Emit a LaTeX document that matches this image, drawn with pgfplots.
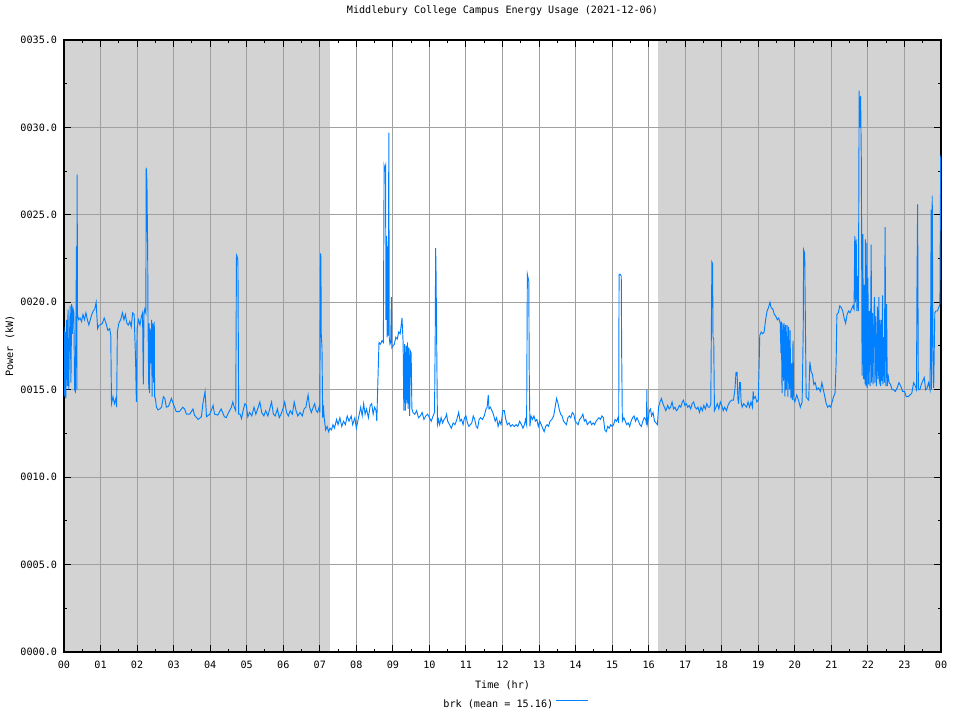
\documentclass[border=0pt]{standalone}
\usepackage{pgfplots}
\usepackage{pgfplotstable}
\pgfplotsset{compat=1.18}
\usepackage{fontspec}
\setmainfont{DejaVu Sans Mono}
\definecolor{shade}{HTML}{D3D3D3}
\definecolor{gridc}{HTML}{A0A0A0}
\definecolor{linec}{HTML}{0080FF}

\pgfplotstableread{
x y
0.00 18.6
0.02 14.6
0.04 18.3
0.05 14.5
0.07 19.0
0.09 15.2
0.11 19.6
0.13 15.0
0.15 18.0
0.17 19.8
0.19 15.4
0.21 19.9
0.23 18.2
0.25 19.6
0.27 19.4
0.29 15.0
0.31 14.9
0.33 19.8
0.34 23.2
0.35 15.0
0.36 27.3
0.37 19.3
0.40 19.0
0.44 19.1
0.48 18.9
0.52 19.3
0.56 19.0
0.60 19.4
0.64 19.0
0.68 18.7
0.72 19.0
0.76 19.3
0.80 19.5
0.84 19.6
0.88 20.0
0.90 19.2
0.92 18.5
0.96 18.7
1.00 18.7
1.05 18.8
1.10 19.1
1.15 18.8
1.20 18.4
1.25 18.5
1.28 18.1
1.30 14.2
1.34 14.6
1.38 14.2
1.42 14.5
1.44 14.0
1.46 18.3
1.50 18.8
1.55 19.0
1.60 19.4
1.64 19.0
1.68 19.3
1.72 18.8
1.76 18.7
1.80 18.9
1.84 18.6
1.88 19.4
1.92 19.3
1.96 16.6
1.98 14.3
2.00 18.5
2.04 19.0
2.08 18.7
2.12 19.2
2.15 19.4
2.17 15.3
2.19 19.3
2.21 19.6
2.24 19.4
2.25 27.7
2.27 26.9
2.29 22.8
2.30 18.6
2.32 15.0
2.33 18.8
2.34 14.8
2.36 18.5
2.38 16.5
2.40 19.0
2.41 14.6
2.43 18.8
2.45 15.4
2.47 18.9
2.48 14.6
2.50 14.5
2.53 14.0
2.57 13.85
2.62 13.9
2.67 14.0
2.72 14.6
2.76 14.5
2.80 14.0
2.86 14.05
2.94 14.5
2.99 14.2
3.07 13.75
3.16 13.75
3.25 14.0
3.30 13.9
3.35 13.6
3.44 13.6
3.53 13.9
3.57 13.55
3.67 13.3
3.76 13.45
3.80 14.2
3.86 14.9
3.90 13.45
3.99 13.6
4.08 14.1
4.12 13.6
4.21 13.55
4.30 13.9
4.39 13.45
4.44 13.4
4.48 13.6
4.53 13.8
4.58 14.0
4.62 14.3
4.66 14.0
4.70 13.8
4.72 22.7
4.74 22.6
4.76 22.4
4.78 13.6
4.82 13.6
4.86 13.35
4.90 13.8
4.95 14.2
4.99 14.1
5.03 13.45
5.08 13.7
5.14 13.5
5.20 14.0
5.25 13.6
5.30 13.9
5.36 14.3
5.41 13.7
5.47 13.5
5.52 13.8
5.58 13.5
5.63 13.9
5.68 14.3
5.73 13.6
5.78 13.5
5.84 13.9
5.89 13.4
5.94 13.6
5.99 13.9
6.04 14.3
6.09 13.7
6.14 13.5
6.19 13.8
6.25 13.6
6.30 14.3
6.35 13.8
6.40 13.5
6.46 13.7
6.52 13.5
6.57 13.9
6.62 14.0
6.68 14.7
6.72 14.0
6.77 13.7
6.82 14.0
6.86 14.2
6.90 13.8
6.94 13.7
6.98 14.0
7.00 13.7
7.02 22.8
7.03 22.6
7.04 18.2
7.06 17.4
7.08 13.4
7.10 14.1
7.12 13.4
7.16 12.7
7.20 12.9
7.24 12.6
7.28 12.8
7.32 12.7
7.36 13.0
7.40 12.8
7.46 13.3
7.50 13.0
7.55 13.4
7.60 12.9
7.65 13.2
7.70 13.0
7.75 13.5
7.80 13.2
7.86 13.5
7.90 13.0
7.96 13.4
8.00 12.8
8.04 13.2
8.08 13.6
8.12 14.0
8.16 13.5
8.20 14.2
8.24 13.6
8.28 13.9
8.33 13.4
8.38 14.1
8.42 14.2
8.46 13.6
8.50 14.0
8.54 13.8
8.56 13.2
8.59 15.5
8.62 17.7
8.66 17.6
8.70 17.8
8.74 17.7
8.76 27.8
8.78 27.6
8.80 27.8
8.81 19.0
8.83 23.8
8.84 18.0
8.86 23.2
8.87 18.1
8.89 29.7
8.90 18.0
8.92 17.6
8.94 17.7
8.96 20.3
8.97 17.4
9.00 17.5
9.04 17.6
9.08 18.0
9.12 17.9
9.16 18.3
9.20 18.2
9.25 19.1
9.28 17.7
9.30 13.8
9.32 17.6
9.34 13.8
9.36 17.5
9.38 14.2
9.40 17.7
9.42 13.9
9.44 17.4
9.46 13.5
9.48 17.2
9.50 17.1
9.52 13.9
9.55 13.7
9.60 13.6
9.65 13.8
9.70 13.4
9.75 13.5
9.80 13.7
9.85 13.3
9.90 13.5
9.95 13.6
10.00 13.4
10.05 13.2
10.10 13.5
10.14 13.7
10.16 18.4
10.17 23.1
10.18 22.0
10.20 17.5
10.22 13.0
10.25 13.3
10.28 13.0
10.32 13.4
10.36 13.1
10.40 13.3
10.44 13.4
10.47 13.6
10.50 13.2
10.55 13.0
10.60 12.8
10.65 13.1
10.70 13.0
10.75 13.3
10.80 13.7
10.84 13.2
10.88 13.3
10.92 13.0
10.96 13.4
11.00 13.5
11.04 13.1
11.08 12.9
11.12 13.0
11.16 13.1
11.20 13.5
11.24 13.3
11.28 12.9
11.32 12.8
11.36 13.3
11.40 13.4
11.45 13.3
11.50 13.5
11.55 13.9
11.58 14.0
11.61 14.7
11.63 13.9
11.67 14.0
11.71 13.8
11.75 13.6
11.80 13.2
11.84 13.4
11.88 12.9
11.92 13.2
11.96 13.0
12.01 13.8
12.05 13.8
12.09 13.3
12.13 13.0
12.18 13.1
12.22 12.9
12.27 13.0
12.32 12.9
12.37 13.0
12.42 12.9
12.47 13.2
12.52 13.0
12.56 12.8
12.60 13.0
12.63 13.3
12.66 13.0
12.68 21.6
12.70 21.4
12.72 21.2
12.73 16.3
12.75 12.9
12.78 13.5
12.82 13.3
12.86 13.5
12.90 13.2
12.94 13.3
12.98 12.9
13.02 13.2
13.06 13.0
13.10 12.8
13.14 12.6
13.18 12.9
13.22 13.0
13.26 12.9
13.30 13.2
13.35 13.3
13.40 13.5
13.44 14.0
13.48 14.5
13.51 14.3
13.55 13.9
13.59 13.6
13.63 13.5
13.67 13.2
13.71 13.1
13.75 13.0
13.79 13.4
13.83 13.5
13.87 13.4
13.91 13.7
13.95 13.6
13.99 13.2
14.03 13.1
14.07 13.0
14.11 13.3
14.15 13.4
14.20 13.6
14.24 13.2
14.28 13.3
14.32 13.0
14.36 13.1
14.40 13.2
14.44 13.0
14.48 13.1
14.52 13.0
14.56 13.2
14.60 13.3
14.64 13.4
14.68 13.3
14.72 13.5
14.76 13.4
14.80 12.7
14.84 12.6
14.88 12.9
14.92 12.8
14.96 13.0
15.00 12.9
15.04 13.0
15.08 13.3
15.12 13.2
15.16 13.4
15.18 13.1
15.19 21.6
15.22 21.6
15.25 21.5
15.26 17.3
15.28 13.2
15.32 13.4
15.36 13.2
15.40 13.0
15.44 13.1
15.48 12.9
15.52 13.2
15.56 13.4
15.60 13.5
15.64 13.2
15.68 13.4
15.72 13.2
15.76 13.0
15.80 12.9
15.84 13.2
15.88 13.4
15.92 13.3
15.94 13.0
15.95 15.0
15.96 13.0
15.98 13.2
16.02 13.8
16.05 13.9
16.08 13.5
16.12 13.7
16.16 13.2
16.20 13.1
16.24 13.0
16.27 14.0
16.31 14.3
16.35 14.5
16.39 14.2
16.43 14.0
16.47 13.8
16.52 14.1
16.56 13.9
16.60 14.0
16.64 14.3
16.68 13.9
16.72 14.0
16.76 13.8
16.80 13.9
16.84 14.1
16.88 14.0
16.92 14.3
16.95 14.4
16.99 14.1
17.03 14.2
17.07 14.0
17.11 14.1
17.15 13.9
17.19 14.2
17.23 14.3
17.27 14.0
17.31 13.9
17.35 14.0
17.39 13.7
17.43 14.0
17.47 13.8
17.51 14.1
17.55 13.9
17.59 14.2
17.63 14.0
17.67 14.0
17.70 14.2
17.73 22.3
17.75 22.2
17.76 18.0
17.78 17.9
17.80 13.8
17.84 14.0
17.88 14.2
17.92 13.9
17.96 14.3
18.00 14.1
18.04 13.8
18.08 14.0
18.13 13.8
18.17 14.1
18.22 14.3
18.27 14.4
18.32 14.4
18.36 15.0
18.39 16.0
18.42 16.0
18.44 14.5
18.46 14.2
18.49 15.4
18.51 15.4
18.53 14.3
18.56 14.0
18.60 14.2
18.64 14.1
18.68 14.0
18.72 14.3
18.76 14.0
18.80 14.3
18.84 14.0
18.86 14.9
18.88 14.5
18.92 14.6
18.96 14.3
19.00 14.4
19.02 16.2
19.04 18.1
19.08 18.3
19.12 18.2
19.16 18.3
19.20 19.0
19.24 19.5
19.28 19.7
19.32 20.0
19.35 19.7
19.40 19.6
19.44 19.3
19.48 19.2
19.52 19.0
19.56 19.1
19.60 18.8
19.62 17.1
19.63 18.9
19.65 14.8
19.67 18.8
19.69 15.5
19.71 18.8
19.73 14.6
19.75 18.7
19.77 15.0
19.79 18.7
19.81 14.6
19.83 18.6
19.85 15.0
19.87 18.4
19.89 14.5
19.91 16.5
19.93 14.4
19.95 17.8
19.97 14.5
20.00 14.3
20.05 14.7
20.10 14.4
20.15 14.0
20.20 14.3
20.23 18.5
20.24 23.0
20.27 22.8
20.29 18.6
20.31 14.6
20.34 14.5
20.38 14.4
20.41 16.6
20.45 16.0
20.48 15.9
20.52 15.3
20.56 15.4
20.60 15.0
20.65 15.1
20.70 14.9
20.74 15.4
20.78 15.0
20.82 14.6
20.86 14.2
20.90 14.0
20.94 14.1
20.98 14.0
21.02 14.3
21.06 14.6
21.10 14.8
21.13 16.5
21.15 19.3
21.19 19.4
21.23 19.8
21.27 19.7
21.31 19.5
21.35 19.1
21.39 18.8
21.43 19.3
21.47 19.5
21.51 19.4
21.55 19.6
21.59 19.8
21.62 19.6
21.64 23.8
21.66 20.0
21.68 23.6
21.70 19.5
21.72 21.5
21.74 19.5
21.76 32.1
21.78 30.0
21.80 31.8
21.82 28.0
21.84 15.8
21.86 23.9
21.88 15.6
21.90 21.0
21.92 15.3
21.93 23.6
21.95 15.2
21.97 23.4
21.98 15.1
22.00 21.4
22.02 15.3
22.04 19.5
22.06 15.2
22.09 23.3
22.10 15.4
22.12 19.4
22.14 15.3
22.16 19.0
22.18 20.3
22.19 15.4
22.21 19.2
22.23 15.2
22.26 19.75
22.27 15.6
22.30 20.3
22.31 15.3
22.33 19.0
22.35 15.2
22.37 19.0
22.38 15.5
22.40 20.4
22.41 15.3
22.43 18.0
22.45 15.4
22.47 24.3
22.49 15.2
22.51 19.9
22.53 15.2
22.55 15.9
22.58 15.4
22.62 15.3
22.66 15.0
22.70 15.0
22.75 14.9
22.80 15.1
22.85 15.4
22.90 15.2
22.95 14.9
23.00 14.9
23.05 14.6
23.10 14.6
23.15 14.7
23.20 14.8
23.25 15.4
23.30 15.2
23.33 15.0
23.34 20.3
23.36 25.6
23.38 15.0
23.42 15.0
23.46 15.3
23.50 15.5
23.54 15.7
23.58 15.0
23.62 15.1
23.66 15.4
23.70 15.0
23.72 20.2
23.73 25.3
23.74 15.0
23.76 26.1
23.78 17.4
23.80 15.1
23.83 19.4
23.86 19.5
23.90 19.5
23.94 19.7
23.97 19.9
23.99 28.2
24.00 28.1
}\energy

\begin{document}
\begin{tikzpicture}[font=\fontsize{7.6pt}{9pt}\selectfont]
\begin{axis}[
  at={(0,0)}, anchor=south west,
  scale only axis,
  width=657.75pt, height=459pt,
  set layers,
  xmin=0, xmax=24, ymin=0, ymax=35,
  xtick={0,1,...,24},
  xticklabels={00,01,02,03,04,05,06,07,08,09,10,11,12,13,14,15,16,17,18,19,20,21,22,23,00},
  ytick={0,5,10,15,20,25,30,35},
  yticklabels={0000.0,0005.0,0010.0,0015.0,0020.0,0025.0,0030.0,0035.0},
  minor x tick num=1, minor y tick num=1,
  tick align=inside,
  major tick length=5.25pt, minor tick length=2.5pt,
  every tick/.style={black, line width=0.75pt},
  grid=major,
  major grid style={gridc, line width=0.75pt},
  axis line style={black, line width=1pt},
  tick label style={font=\fontsize{7.6pt}{9pt}\selectfont},
  xticklabel style={anchor=north, inner sep=0pt, yshift=-6.5pt},
  yticklabel style={anchor=east, inner sep=0pt, xshift=-5pt},
  /pgf/number format/assume math mode=true,
  title={Middlebury College Campus Energy Usage (2021-12-06)},
  title style={at={(axis description cs:0.5,1)}, anchor=center, yshift=15.75pt, font=\fontsize{7.6pt}{9pt}\selectfont},
  xlabel={Time (hr)},
  xlabel style={at={(axis description cs:0.5,0)}, anchor=center, yshift=-24.75pt, font=\fontsize{7.6pt}{9pt}\selectfont},
  ylabel={Power (kW)},
  ylabel style={at={(axis description cs:0,0.5)}, anchor=center, rotate=0, yshift=40.5pt, font=\fontsize{7.6pt}{9pt}\selectfont},
  legend plot pos=right,
  legend style={draw=none, fill=none, at={(axis description cs:0.514,0)}, anchor=center, yshift=-39.75pt, font=\fontsize{7.6pt}{9pt}\selectfont, inner sep=0pt},
]
\addplot[fill=shade, draw=none, forget plot, on layer=axis background] coordinates {(0,35) (7.28,35)} \closedcycle;
\addplot[fill=shade, draw=none, forget plot, on layer=axis background] coordinates {(16.26,35) (24,35)} \closedcycle;
\addplot[linec, line width=0.7pt, mark=none,
  legend image code/.code={\draw[linec, line width=0.7pt] (0pt,0.6ex) -- (24pt,0.6ex);}] table {\energy};
\addlegendentry{brk (mean = 15.16)}
\end{axis}
\pgfresetboundingbox
\useasboundingbox (-48pt,-51pt) rectangle (672pt,489pt);
\end{tikzpicture}
\end{document}
